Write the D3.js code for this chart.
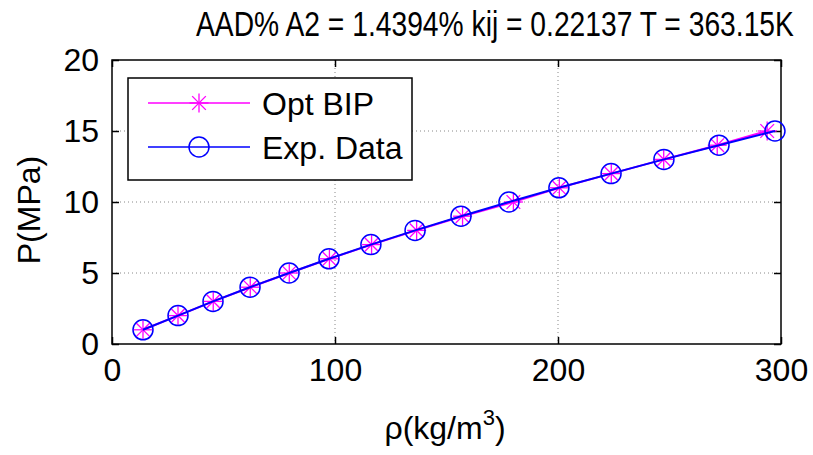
<!DOCTYPE html>
<html>
<head>
<meta charset="utf-8">
<script src="https://cdn.jsdelivr.net/npm/d3@7"></script>
<style>
  body { margin: 0; background: #fff; }
  svg { font-family: "Liberation Sans", Arial, sans-serif; }
</style>
</head>
<body>
<svg id="chart" width="813" height="455"></svg>
<script>
// Pressure levels (MPa)
const pressure = [1, 2, 3, 4, 5, 6, 7, 8, 9, 10, 11, 12, 13, 14, 15];
// Experimental density (kg/m3)
const expDensity = [13.9, 29.6, 45.3, 61.9, 79.4, 97.3, 116.1, 135.9, 156.5, 178.0, 200.4, 223.8, 247.5, 272.2, 297.3];
// Density predicted with the optimised BIP
const optDensity = [13.9, 29.6, 45.4, 62.0, 79.5, 97.5, 116.4, 136.6, 157.2, 180.0, 200.6, 223.9, 247.4, 271.4, 293.8];

const xTicks = [0, 100, 200, 300];
const yTicks = [0, 5, 10, 15, 20];
const titleText = "AAD% A2 = 1.4394% kij = 0.22137 T = 363.15K";

const svg = d3.select("#chart");
const mLeft = 112, mRight = 781, mTop = 60, mBottom = 344;

const x = d3.scaleLinear().domain([0, 300]).range([mLeft, mRight]);
const y = d3.scaleLinear().domain([0, 20]).range([mBottom, mTop]);

// Grid lines (dotted)
svg.append("g")
    .selectAll("line")
    .data(xTicks.filter(d => d > 0 && d < 300))
    .enter().append("line")
    .attr("x1", d => x(d)).attr("x2", d => x(d))
    .attr("y1", mTop).attr("y2", mBottom)
    .attr("stroke", "#888").attr("stroke-width", 1)
    .attr("stroke-dasharray", "1,3");

svg.append("g")
    .selectAll("line")
    .data(yTicks.filter(d => d > 0 && d < 20))
    .enter().append("line")
    .attr("x1", mLeft).attr("x2", mRight)
    .attr("y1", d => y(d)).attr("y2", d => y(d))
    .attr("stroke", "#888").attr("stroke-width", 1)
    .attr("stroke-dasharray", "1,3");

// Axes with inward ticks on all four sides
const tickLen = 7;
const xAxisB = d3.axisBottom(x).tickValues(xTicks).tickSizeInner(-tickLen).tickSizeOuter(0).tickPadding(14);
const xAxisT = d3.axisTop(x).tickValues(xTicks).tickSizeInner(-tickLen).tickSizeOuter(0).tickFormat("");
const yAxisL = d3.axisLeft(y).tickValues(yTicks).tickSizeInner(-tickLen).tickSizeOuter(0).tickPadding(13);
const yAxisR = d3.axisRight(y).tickValues(yTicks).tickSizeInner(-tickLen).tickSizeOuter(0).tickFormat("");

function styleAxis(g) {
    g.select(".domain").remove();
    g.selectAll("line").attr("stroke", "#000").attr("stroke-width", 1.5);
    g.selectAll("text").attr("font-size", "32px").attr("fill", "#000")
        .attr("font-family", "'Liberation Sans', Arial, sans-serif");
}

svg.append("g").attr("transform", `translate(0,${mBottom})`).call(xAxisB).call(styleAxis);
svg.append("g").attr("transform", `translate(0,${mTop})`).call(xAxisT).call(styleAxis);
svg.append("g").attr("transform", `translate(${mLeft},0)`).call(yAxisL).call(styleAxis);
svg.append("g").attr("transform", `translate(${mRight},0)`).call(yAxisR).call(styleAxis);

// Frame
svg.append("rect")
    .attr("x", mLeft).attr("y", mTop)
    .attr("width", mRight - mLeft).attr("height", mBottom - mTop)
    .attr("fill", "none").attr("stroke", "#000").attr("stroke-width", 1.5);

// Series
const optData = pressure.map((p, i) => ({ rho: optDensity[i], p: p }));
const expData = pressure.map((p, i) => ({ rho: expDensity[i], p: p }));

const line = d3.line().x(d => x(d.rho)).y(d => y(d.p));

function asterisk(g, cx, cy, r) {
    const a = g.append("g").attr("transform", `translate(${cx},${cy})`)
        .attr("stroke", "#ff00ff").attr("stroke-width", 1.3);
    a.append("line").attr("x1", -r).attr("x2", r).attr("y1", 0).attr("y2", 0);
    a.append("line").attr("x1", 0).attr("x2", 0).attr("y1", -r).attr("y2", r);
    const d = r * 0.72;
    a.append("line").attr("x1", -d).attr("x2", d).attr("y1", -d).attr("y2", d);
    a.append("line").attr("x1", -d).attr("x2", d).attr("y1", d).attr("y2", -d);
}

svg.append("path").datum(optData)
    .attr("d", line).attr("fill", "none")
    .attr("stroke", "#ff00ff").attr("stroke-width", 2);

const optG = svg.append("g");
optData.forEach(d => asterisk(optG, x(d.rho), y(d.p), 9.5));

svg.append("path").datum(expData)
    .attr("d", line).attr("fill", "none")
    .attr("stroke", "#0000ff").attr("stroke-width", 2);

svg.append("g").selectAll("circle")
    .data(expData)
    .enter().append("circle")
    .attr("cx", d => x(d.rho)).attr("cy", d => y(d.p))
    .attr("r", 10)
    .attr("fill", "none").attr("stroke", "#0000ff").attr("stroke-width", 1.5);

// Legend
const leg = svg.append("g");
leg.append("rect")
    .attr("x", 128).attr("y", 78).attr("width", 284).attr("height", 102)
    .attr("fill", "#fff").attr("stroke", "#000").attr("stroke-width", 1.5);

leg.append("line").attr("x1", 148).attr("x2", 250).attr("y1", 103).attr("y2", 103)
    .attr("stroke", "#ff00ff").attr("stroke-width", 1.5);
asterisk(leg, 199, 103, 9.5);
leg.append("text").attr("x", 262).attr("y", 115).attr("font-size", "32px").text("Opt BIP");

leg.append("line").attr("x1", 148).attr("x2", 250).attr("y1", 147).attr("y2", 147)
    .attr("stroke", "#0000ff").attr("stroke-width", 1.5);
leg.append("circle").attr("cx", 199).attr("cy", 147).attr("r", 10)
    .attr("fill", "none").attr("stroke", "#0000ff").attr("stroke-width", 1.5);
leg.append("text").attr("x", 262).attr("y", 159).attr("font-size", "32px").text("Exp. Data");

// Title: tall, horizontally condensed glyphs
const title = svg.append("text")
    .attr("font-size", "35px")
    .text(titleText);
const tw = title.node().getComputedTextLength();
title.attr("transform", `translate(196,36) scale(${598 / tw},1)`);

// Axis labels
const xl = svg.append("text")
    .attr("x", 445).attr("y", 439)
    .attr("text-anchor", "middle")
    .attr("font-size", "32px");
xl.append("tspan").text("\u03c1(kg/m");
xl.append("tspan").attr("font-size", "22px").attr("dy", -14).text("3");
xl.append("tspan").attr("dy", 14).text(")");

svg.append("text")
    .attr("transform", "translate(40,210) rotate(-90)")
    .attr("text-anchor", "middle")
    .attr("font-size", "32px")
    .text("P(MPa)");
</script>
</body>
</html>
